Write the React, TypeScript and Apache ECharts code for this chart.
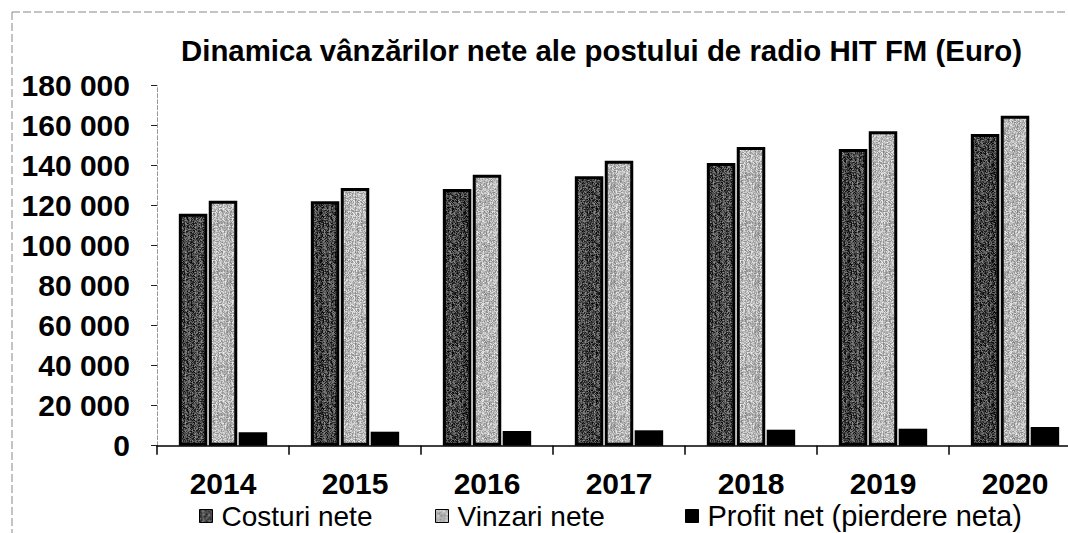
import React, { useEffect, useRef } from "react";
import * as echarts from "echarts";

const years = ["2014", "2015", "2016", "2017", "2018", "2019", "2020"];
const costuriNete = [116000, 122200, 128300, 134700, 141300, 148300, 155800];
const vinzariNete = [122500, 128800, 135500, 142500, 149300, 157200, 165000];
const profitNet = [6700, 7000, 7350, 7700, 8000, 8500, 9350];
const seriesNames = ["Costuri nete", "Vinzari nete", "Profit net (pierdere neta)"];
const titleText = "Dinamica vânzărilor nete ale postului de radio HIT FM (Euro)";

const FONT = "'Liberation Sans', Arial, sans-serif";

function makeTexture(base: number, spread: number, seed: number): HTMLCanvasElement {
  const size = 48;
  const c = document.createElement("canvas");
  c.width = size;
  c.height = size;
  const ctx = c.getContext("2d")!;
  const img = ctx.createImageData(size, size);
  let s = seed;
  const next = () => {
    s = (s * 1103515245 + 12345) & 0x7fffffff;
    return s / 0x7fffffff;
  };
  const colShift: number[] = [];
  for (let x = 0; x < size; x++) colShift.push((next() - 0.5) * spread * 0.4);
  for (let y = 0; y < size; y++) {
    for (let x = 0; x < size; x++) {
      const v = Math.max(0, Math.min(255, base + colShift[x] + (next() - 0.5) * spread));
      const i = (y * size + x) * 4;
      img.data[i] = v;
      img.data[i + 1] = v;
      img.data[i + 2] = v;
      img.data[i + 3] = 255;
    }
  }
  ctx.putImageData(img, 0, 0);
  return c;
}

export default function App() {
  const ref = useRef<HTMLDivElement>(null);
  useEffect(() => {
    if (!ref.current) return;
    const chart = echarts.init(ref.current, undefined, { renderer: "svg" });
    const darkTex = makeTexture(68, 120, 12345);
    const lightTex = makeTexture(185, 90, 67890);
    const legendBase = {
      top: 502,
      padding: 0,
      itemWidth: 13,
      itemHeight: 13,
      icon: "rect",
      textStyle: { fontFamily: FONT, fontSize: 28, color: "#000", padding: [0, 0, 0, 4] },
      itemStyle: { borderWidth: 1, borderColor: "#000" },
    };
    chart.setOption({
      animation: false,
      backgroundColor: "#fff",
      title: {
        text: titleText,
        left: 176,
        top: 31,
        textStyle: { fontFamily: FONT, fontSize: 29.4, fontWeight: "bold", color: "#000" },
      },
      legend: [
        { ...legendBase, left: 199, data: [seriesNames[0]] },
        { ...legendBase, left: 435, data: [seriesNames[1]] },
        {
          ...legendBase,
          top: 501.5,
          left: 685,
          data: [seriesNames[2]],
          textStyle: { ...legendBase.textStyle, fontSize: 29 },
        },
      ],
      grid: { left: 157, top: 85.7, bottom: 87.3, right: 0, containLabel: false },
      xAxis: {
        type: "category",
        data: years,
        axisLine: { lineStyle: { color: "#000", width: 1.5 } },
        axisTick: { show: true, length: 9, lineStyle: { color: "#000", width: 1.5 } },
        axisLabel: { fontFamily: FONT, fontSize: 30, fontWeight: "bold", color: "#000", margin: 23 },
      },
      yAxis: {
        type: "value",
        min: 0,
        max: 180000,
        interval: 20000,
        axisLine: { show: true, lineStyle: { color: "#999", width: 1, type: "dashed" } },
        axisTick: { show: true, length: 6, lineStyle: { color: "#222", width: 1 } },
        splitLine: { show: false },
        axisLabel: {
          fontFamily: FONT,
          fontSize: 30,
          fontWeight: "bold",
          color: "#000",
          margin: 27,
          formatter: (v: number) => String(v).replace(/\B(?=(\d{3})+(?!\d))/g, " "),
        },
      },
      series: [
        {
          name: seriesNames[0],
          type: "bar",
          data: costuriNete,
          barWidth: 28.5,
          barGap: "5%",
          itemStyle: { color: { image: darkTex, repeat: "repeat" }, borderColor: "#000", borderWidth: 3 },
        },
        {
          name: seriesNames[1],
          type: "bar",
          data: vinzariNete,
          barWidth: 28.5,
          barGap: "5%",
          itemStyle: { color: { image: lightTex, repeat: "repeat" }, borderColor: "#000", borderWidth: 3 },
        },
        {
          name: seriesNames[2],
          type: "bar",
          data: profitNet,
          barWidth: 28.5,
          barGap: "5%",
          itemStyle: { color: "#000", borderColor: "#000", borderWidth: 0 },
        },
      ],
      graphic: [
        {
          type: "line",
          shape: { x1: 12, y1: 12, x2: 1081, y2: 12 },
          style: { stroke: "#888", lineWidth: 1, lineDash: [8, 3] },
        },
        {
          type: "line",
          shape: { x1: 12, y1: 12, x2: 12, y2: 533 },
          style: { stroke: "#888", lineWidth: 1, lineDash: [8, 3] },
        },
      ],
    });
    return () => chart.dispose();
  }, []);
  return (
    <div
      style={{ position: "fixed", left: 0, top: 0, width: 1068, height: 533, overflow: "hidden" }}
    >
      <div ref={ref} style={{ position: "absolute", left: 0, top: 0, width: 1081, height: 533 }} />
    </div>
  );
}
